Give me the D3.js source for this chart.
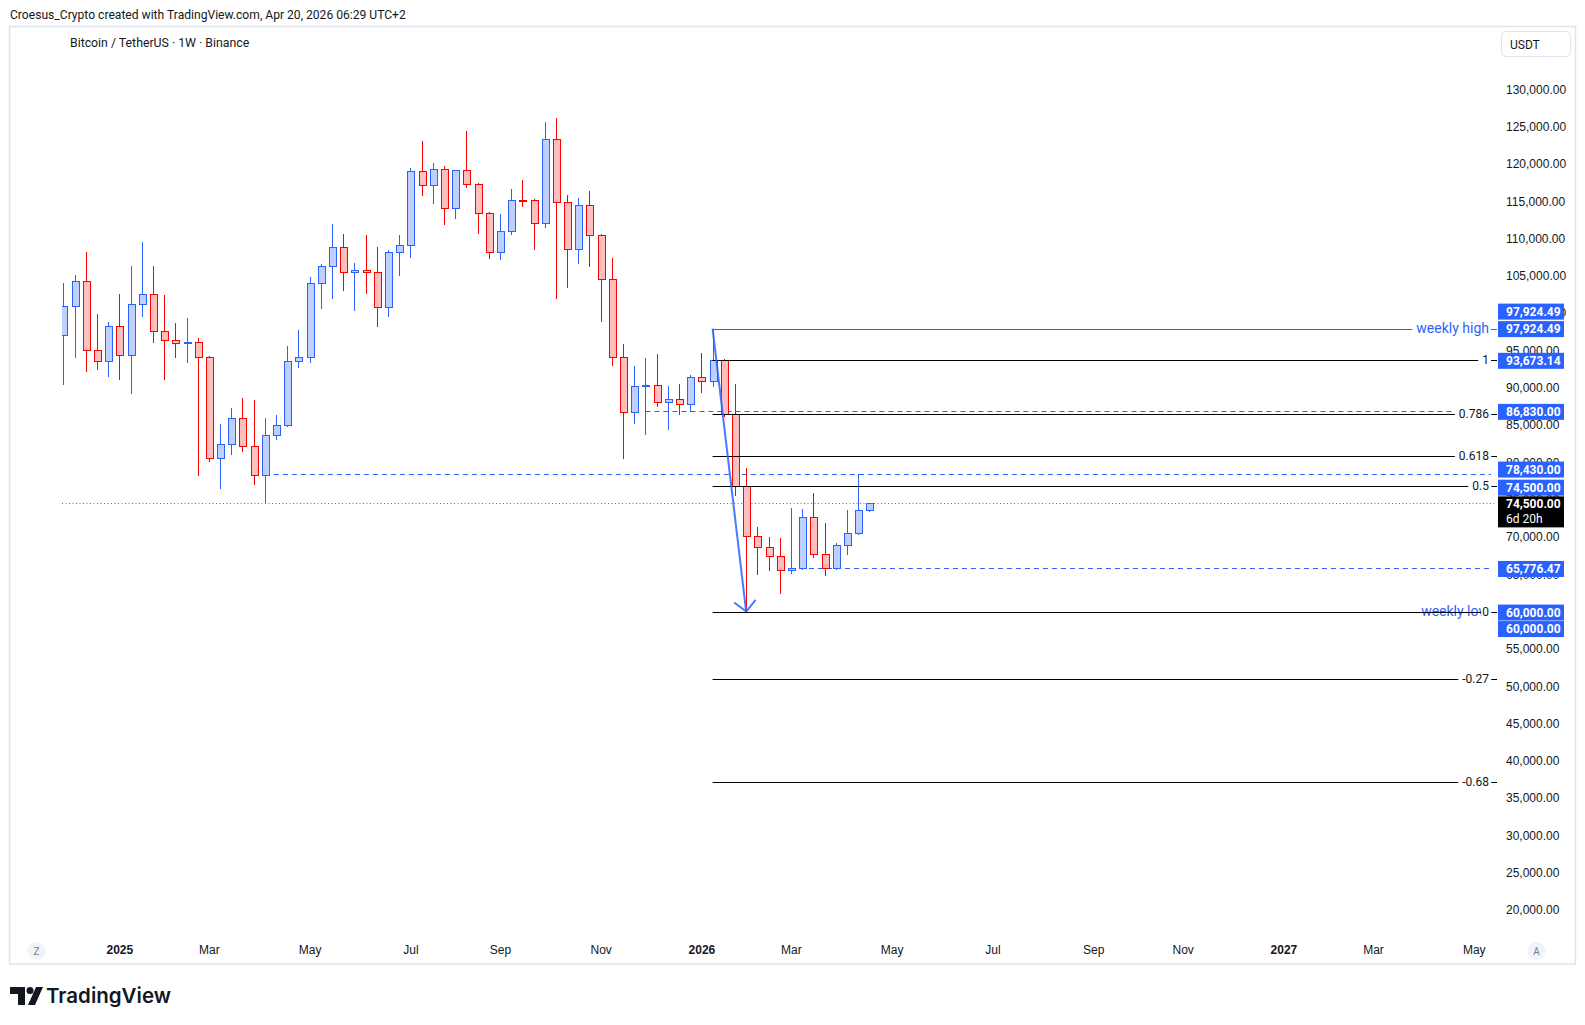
<!DOCTYPE html>
<html>
<head>
<meta charset="utf-8">
<script src="https://cdn.jsdelivr.net/npm/d3@7"></script>
<style>
body { margin: 0; background: #fff; }
svg { display: block; font-family: Roboto, "Liberation Sans", sans-serif; }
</style>
</head>
<body>
<svg id="chart" width="1585" height="1025"></svg>
<script>
// weekly BTC/USDT candles, first bar = week of 2 Dec 2024, last = week of 20 Apr 2026
var firstWeek = "2024-12-02"
var lastWeek = "2026-04-20"

var open = [97030, 100920, 104270, 95020, 93540, 98240, 94350, 101180, 102520, 97570,
    96360, 95960, 96100, 94080, 80540, 82420, 85900, 82150, 78260, 83630,
    84970, 93540, 94080, 104000, 106280, 108820, 105470, 105650, 105500, 100780,
    108150, 109090, 119010, 117130, 119280, 114050, 119140, 117270, 113380, 108150,
    110970, 115120, 115050, 112040, 123300, 114860, 108560, 114450, 110430, 104530,
    94080, 86710, 90190, 90300, 88050, 88450, 87780, 91400, 90860, 93673.14,
    86390, 76790, 70090, 68610, 67410, 65530, 65776, 72640, 67680, 65800,
    68880, 70490, 73570]
var high = [104040, 105110, 108190, 99880, 98810, 102560, 106320, 109530, 106320, 102430,
    98680, 99350, 96600, 94300, 85140, 87290, 88630, 88360, 85940, 86350,
    95600, 97740, 104800, 106550, 111950, 110610, 106720, 110470, 108860, 108460,
    110470, 119450, 123070, 120120, 119720, 119200, 124410, 117400, 113510, 113290,
    116600, 117800, 115260, 125580, 126150, 115830, 115430, 116370, 110610, 107390,
    95860, 92910, 93990, 94520, 90230, 90500, 91710, 94660, 97924.49, 93800,
    90500, 79240, 71340, 70000, 69820, 73840, 73730, 75890, 71870, 69190,
    73570, 78430, 74550]
var low = [90410, 94030, 92150, 92420, 91480, 91080, 89200, 99520, 96040, 91080,
    94030, 93360, 78210, 80010, 76470, 81030, 81430, 77010, 74510, 83040,
    84700, 92690, 93360, 100590, 101930, 103010, 100330, 102600, 98180, 99520,
    105020, 107430, 115740, 114670, 111850, 112660, 116810, 110650, 107300, 107160,
    110510, 114270, 108500, 111450, 101930, 103410, 106630, 106220, 98850, 92950,
    80490, 85180, 83710, 87460, 84380, 86390, 86710, 89260, 90060, 86040,
    75530, 60000, 64900, 65480, 62400, 65080, 65600, 67220, 64810, 65530,
    67620, 70300, 73400]
var close = [100920, 104270, 95020, 93540, 98240, 94350, 101180, 102520, 97570, 96360,
    95960, 96100, 94080, 80540, 82420, 85900, 82150, 78260, 83630, 84970,
    93540, 94080, 104000, 106280, 108820, 105470, 105650, 105500, 100780, 108150,
    109090, 119010, 117130, 119280, 114050, 119140, 117270, 113380, 108150, 110970,
    115120, 115050, 112040, 123300, 114860, 108560, 114450, 110430, 104530, 94080,
    86710, 90190, 90300, 88050, 88450, 87780, 91400, 90860, 93673.14, 86390,
    76790, 70090, 68610, 67410, 65530, 65776.47, 72640, 67680, 65800, 68880,
    70490, 73570, 74500]

// price scale
var priceTicks = [130000, 125000, 120000, 115000, 110000, 105000, 100000, 95000, 90000, 85000,
    80000, 75000, 70000, 65000, 60000, 55000, 50000, 45000, 40000, 35000,
    30000, 25000, 20000]
var timeTickMonths = ["2025-01", "2025-03", "2025-05", "2025-07", "2025-09", "2025-11",
    "2026-01", "2026-03", "2026-05", "2026-07", "2026-09", "2026-11",
    "2027-01", "2027-03", "2027-05"]
var timeTickText = ["2025", "Mar", "May", "Jul", "Sep", "Nov", "2026", "Mar", "May", "Jul",
    "Sep", "Nov", "2027", "Mar", "May"]

// drawings
var weeklyHigh = 97924.49
var weeklyLow = 60000
var fibLevels = [1, 0.786, 0.618, 0.5, 0, -0.27, -0.68]
var fibTop = 93673.14
var fibBottom = 60000
var dashedLines = [86830, 78430, 65776.47]
var dashedFromWeek = [52, 18, 65]
var lastPrice = 74500
var boxText = ["97,924.49", "97,924.49", "93,673.14", "86,830.00", "78,430.00", "74,500.00",
    "65,776.47", "60,000.00", "60,000.00"]
var boxPrice = [97924.49, 97924.49, 93673.14, 86830, 78430, 74500, 65776.47, 60000, 60000]

var BLUE = "#2962ff", RED = "#ff0000", INK = "#131722"
var plotLeft = 62, plotRight = 1497

var svg = d3.select("#chart")

var parse = d3.utcParse("%Y-%m-%d")
var weeks = d3.utcMonday.range(parse(firstWeek), d3.utcDay.offset(parse(lastWeek), 1))
var bars = weeks.map((d, i) => ({ date: d, o: open[i], h: high[i], l: low[i], c: close[i] }))

var x = d3.scaleUtc()
    .domain([parse(firstWeek), parse(lastWeek)])
    .range([63.4, 869.3])
var y = d3.scaleLinear()
    .domain([20000, 130000])
    .range([910, 89.3])

// frame + header
svg.append("rect").attr("x", 9.5).attr("y", 26.5).attr("width", 1566).attr("height", 937.5)
    .attr("fill", "#fff").attr("stroke", "#e0e3eb").attr("stroke-width", 1.5)

svg.append("text").attr("x", 10).attr("y", 18.5)
    .attr("font-size", 12.1).attr("fill", INK)
    .text("Croesus_Crypto created with TradingView.com, Apr 20, 2026 06:29 UTC+2")

svg.append("text").attr("x", 70).attr("y", 46.5)
    .attr("font-size", 12.3).attr("fill", INK)
    .text("Bitcoin / TetherUS · 1W · Binance")

svg.append("rect").attr("x", 1501.5).attr("y", 31.5).attr("width", 69).attr("height", 25)
    .attr("rx", 4).attr("fill", "#fff").attr("stroke", "#e0e3eb")
svg.append("text").attr("x", 1510).attr("y", 48.5).attr("font-size", 12).attr("fill", INK).text("USDT")

svg.append("defs").append("clipPath").attr("id", "plot")
    .append("rect").attr("x", plotLeft).attr("y", 28).attr("width", plotRight - plotLeft).attr("height", 905)

var plot = svg.append("g").attr("clip-path", "url(#plot)")

// current price dotted line
plot.append("line")
    .attr("x1", plotLeft).attr("x2", plotRight)
    .attr("y1", Math.round(y(lastPrice)) + 0.5).attr("y2", Math.round(y(lastPrice)) + 0.5)
    .attr("stroke", "#089981").attr("stroke-dasharray", "1,2.5")

// dashed horizontal rays
dashedLines.forEach((p, i) => {
    var yy = Math.round(y(p)) + 0.5
    plot.append("line")
        .attr("x1", x(weeks[dashedFromWeek[i]])).attr("x2", 1491)
        .attr("y1", yy).attr("y2", yy)
        .attr("stroke", BLUE).attr("stroke-dasharray", "5,4")
})

// candles
var candle = plot.selectAll("g.candle")
    .data(bars)
    .join("g")
    .attr("class", "candle")
    .attr("shape-rendering", "crispEdges")

candle.append("line")
    .attr("x1", d => Math.round(x(d.date)) + 0.5)
    .attr("x2", d => Math.round(x(d.date)) + 0.5)
    .attr("y1", d => y(d.h))
    .attr("y2", d => y(d.l))
    .attr("stroke", d => d.c >= d.o ? BLUE : RED)

candle.append("rect")
    .attr("x", d => Math.round(x(d.date)) - 3)
    .attr("y", d => y(Math.max(d.o, d.c)))
    .attr("width", 7)
    .attr("height", d => Math.max(1, Math.abs(y(d.o) - y(d.c))))
    .attr("fill", d => d.c >= d.o ? "#bfd0ff" : "#ffbfbf")
    .attr("stroke", d => d.c >= d.o ? BLUE : RED)

// weekly high / low trend lines
var xHi = x(weeks[58]), xLo = x(weeks[61])
var yHi = Math.round(y(weeklyHigh)) + 0.5

plot.append("line").attr("x1", xHi).attr("x2", plotRight)
    .attr("y1", yHi).attr("y2", yHi).attr("stroke", BLUE)

function lineLabel(txt, yy, size, color, pad) {
    var t = plot.append("text").attr("x", 1489).attr("y", yy).attr("text-anchor", "end")
        .attr("dominant-baseline", "central").attr("font-size", size).attr("fill", color).text(txt)
    var b = t.node().getBBox()
    plot.insert("rect", () => t.node()).attr("x", b.x - pad).attr("y", yy - 5).attr("width", b.width + pad + 2)
        .attr("height", 10).attr("fill", "#fff")
    return t
}
lineLabel("weekly high", y(weeklyHigh) - 1, 14, BLUE, 4)
plot.append("text").attr("x", 1489).attr("y", y(weeklyLow) - 1).attr("text-anchor", "end")
    .attr("dominant-baseline", "central").attr("font-size", 14).attr("fill", BLUE).text("weekly low")

// fibonacci levels
fibLevels.forEach(f => {
    var p = fibBottom + f * (fibTop - fibBottom)
    var yy = Math.round(y(p)) + 0.5
    plot.append("line").attr("x1", xHi).attr("x2", plotRight)
        .attr("y1", yy).attr("y2", yy).attr("stroke", "#000")
})
fibLevels.forEach(f => {
    var p = fibBottom + f * (fibTop - fibBottom)
    lineLabel(String(f), y(p), 12, INK, f === 0 ? 1 : 4)
})

// arrow from weekly high to weekly low
var ax1 = xHi, ay1 = y(weeklyHigh), ax2 = xLo, ay2 = y(weeklyLow)
var ang = Math.atan2(ay2 - ay1, ax2 - ax1)
plot.append("line").attr("x1", ax1).attr("y1", ay1).attr("x2", ax2).attr("y2", ay2)
    .attr("stroke", BLUE).attr("stroke-width", 2).attr("stroke-opacity", 0.85)
;[-0.8, 0.8].forEach(a => {
    plot.append("line").attr("x1", ax2).attr("y1", ay2)
        .attr("x2", ax2 - 15 * Math.cos(ang + a)).attr("y2", ay2 - 15 * Math.sin(ang + a))
        .attr("stroke", BLUE).attr("stroke-width", 2).attr("stroke-opacity", 0.85)
})

// price axis
var yAxis = svg.append("g").attr("transform", "translate(1506,0)")
    .call(d3.axisRight(y).tickValues(priceTicks).tickSize(0).tickPadding(0).tickFormat(d3.format(",.2f")))
yAxis.select(".domain").remove()
yAxis.selectAll("text").attr("font-size", 12).attr("fill", INK).attr("font-family", null)

// price boxes
var boxNudge = [-17, 0.5, 0.5, 0.5, -4.5, -15.7, 0.5, 1, 17.5]
boxText.forEach((t, i) => {
    var yy = y(boxPrice[i]) + boxNudge[i]
    svg.append("rect").attr("x", 1498).attr("y", yy - 8).attr("width", 66).attr("height", 16).attr("fill", BLUE)
    svg.append("text").attr("x", 1506).attr("y", yy).attr("dominant-baseline", "central")
        .attr("font-size", 12).attr("font-weight", 700).attr("fill", "#fff").text(t)
})
var lp = y(lastPrice)
svg.append("rect").attr("x", 1498).attr("y", lp - 7).attr("width", 66).attr("height", 31).attr("fill", "#000")
svg.append("text").attr("x", 1506).attr("y", lp + 1).attr("dominant-baseline", "central")
    .attr("font-size", 12).attr("font-weight", 700).attr("fill", "#fff").text(d3.format(",.2f")(lastPrice))
svg.append("text").attr("x", 1506).attr("y", lp + 16).attr("dominant-baseline", "central")
    .attr("font-size", 12).attr("fill", "#fff").text("6d 20h")

// time axis
var monthParse = d3.utcParse("%Y-%m")
var tickDates = timeTickMonths.map(m => d3.utcMonday.ceil(monthParse(m)))
var xAxis = svg.append("g").attr("transform", "translate(0,945.5)")
    .call(d3.axisBottom(x).tickValues(tickDates).tickSize(0).tickPadding(0)
        .tickFormat((d, i) => timeTickText[i]))
xAxis.select(".domain").remove()
xAxis.selectAll("text").attr("font-size", 12).attr("fill", INK).attr("font-family", null)
    .attr("font-weight", (d, i) => /^\d/.test(timeTickText[i]) ? 700 : 400)

;[["Z", 36.5], ["A", 1536.5]].forEach(b => {
    svg.append("circle").attr("cx", b[1]).attr("cy", 951).attr("r", 9).attr("fill", "#f0f3fa")
    svg.append("text").attr("x", b[1]).attr("y", 951).attr("text-anchor", "middle")
        .attr("dominant-baseline", "central").attr("font-size", 10).attr("fill", "#787b86").text(b[0])
})

// TradingView logo
var logo = svg.append("g").attr("transform", "translate(10,986)").attr("fill", INK)
logo.append("path").attr("d", "M0 1 H15 V19 H8 V8 H0 Z")
logo.append("circle").attr("cx", 20).attr("cy", 4.5).attr("r", 3.5)
logo.append("path").attr("d", "M26 1 H33 L25 19 H18 Z")
svg.append("text").attr("x", 46).attr("y", 1002.5).attr("font-size", 20.5).attr("font-weight", 600)
    .attr("font-family", "Inter, Roboto, sans-serif").attr("fill", INK).text("TradingView")
</script>
</body>
</html>
